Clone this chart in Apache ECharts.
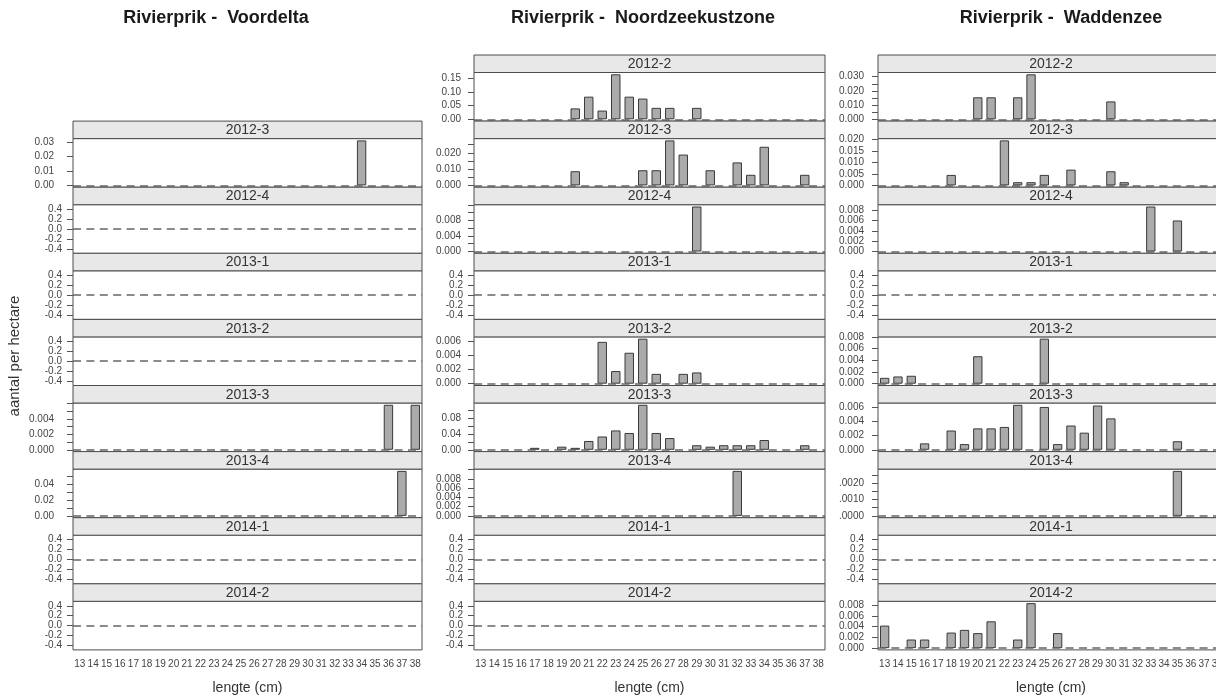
<!DOCTYPE html>
<html>
<head>
<meta charset="utf-8">
<script src="https://cdn.jsdelivr.net/npm/echarts@6/dist/echarts.min.js"></script>
<style>html,body{margin:0;padding:0;background:#fff}#chart{width:1216px;height:695px}</style>
</head>
<body>
<div id="chart"></div>
<script>
// ---------- DATA ----------
const lengthLabels = ['13','14','15','16','17','18','19','20','21','22','23','24','25','26','27','28','29','30','31','32','33','34','35','36','37','38'];

const columnTitles = ['Rivierprik -  Voordelta', 'Rivierprik -  Noordzeekustzone', 'Rivierprik -  Waddenzee'];
const yAxisTitle = 'aantal per hectare';
const xAxisTitle = 'lengte (cm)';

const emptyLabels = ['0.4','0.2','0.0','-0.2','-0.4'];
const Z = [0,0,0,0,0,0,0,0,0,0,0,0,0,0,0,0,0,0,0,0,0,0,0,0,0,0];

// Voordelta
const voordeltaPeriods = ['2012-3','2012-4','2013-1','2013-2','2013-3','2013-4','2014-1','2014-2'];
const voordeltaValues = [
  [0,0,0,0,0,0,0,0,0,0,0,0,0,0,0,0,0,0,0,0,0,0.031,0,0,0,0],
  Z, Z, Z,
  [0,0,0,0,0,0,0,0,0,0,0,0,0,0,0,0,0,0,0,0,0,0,0,0.0058,0,0.0058],
  [0,0,0,0,0,0,0,0,0,0,0,0,0,0,0,0,0,0,0,0,0,0,0,0,0.057,0],
  Z, Z
];
const voordeltaYLabels = [
  ['0.00','0.01','0.02','0.03'], emptyLabels, emptyLabels, emptyLabels,
  ['0.000','0.002','0.004'], ['0.00','0.02','0.04'], emptyLabels, emptyLabels
];
const voordeltaTickSteps = [0.01, 0.2, 0.2, 0.2, 0.001, 0.01, 0.2, 0.2];

// Noordzeekustzone
const noordzeePeriods = ['2012-2','2012-3','2012-4','2013-1','2013-2','2013-3','2013-4','2014-1','2014-2'];
const noordzeeValues = [
  [0,0,0,0,0,0,0,0.040,0.083,0.032,0.165,0.083,0.076,0.042,0.042,0,0.042,0,0,0,0,0,0,0,0,0],
  [0,0,0,0,0,0,0,0.0087,0,0,0,0,0.0093,0.0093,0.0276,0.0189,0,0.0093,0,0.0141,0.0065,0.0237,0,0,0.0065,0],
  [0,0,0,0,0,0,0,0,0,0,0,0,0,0,0,0,0.0116,0,0,0,0,0,0,0,0,0],
  Z,
  [0,0,0,0,0,0,0,0,0,0.00595,0.0018,0.0044,0.0064,0.0014,0,0.0014,0.0016,0,0,0,0,0,0,0,0,0],
  [0,0,0,0,0.005,0,0.008,0.005,0.0225,0.034,0.0495,0.043,0.115,0.043,0.030,0,0.0117,0.008,0.0117,0.0117,0.0117,0.025,0,0,0.0117,0],
  [0,0,0,0,0,0,0,0,0,0,0,0,0,0,0,0,0,0,0,0.00975,0,0,0,0,0,0],
  Z, Z
];
const noordzeeYLabels = [
  ['0.00','0.05','0.10','0.15'], ['0.000','0.010','0.020'], ['0.000','0.004','0.008'], emptyLabels,
  ['0.000','0.002','0.004','0.006'], ['0.00','0.04','0.08'], ['0.000','0.002','0.004','0.006','0.008'],
  emptyLabels, emptyLabels
];
const noordzeeTickSteps = [0.05, 0.005, 0.002, 0.2, 0.002, 0.02, 0.002, 0.2, 0.2];

// Waddenzee
const waddenzeePeriods = ['2012-2','2012-3','2012-4','2013-1','2013-2','2013-3','2013-4','2014-1','2014-2'];
const waddenzeeValues = [
  [0,0,0,0,0,0,0,0.0155,0.0155,0,0.0155,0.0317,0,0,0,0,0,0.0126,0,0,0,0,0,0,0,0],
  [0,0,0,0,0,0.0046,0,0,0,0.0197,0.0014,0.0014,0.0046,0,0.0069,0,0,0.0062,0.0014,0,0,0,0,0,0,0],
  [0,0,0,0,0,0,0,0,0,0,0,0,0,0,0,0,0,0,0,0,0.0087,0,0.0060,0,0,0],
  Z,
  [0.0010,0.00124,0.00136,0,0,0,0,0.0047,0,0,0,0,0.0077,0,0,0,0,0,0,0,0,0,0,0,0,0],
  [0,0,0,0.0009,0,0.0027,0.0008,0.0030,0.0030,0.0032,0.0063,0,0.0060,0.0008,0.0034,0.0024,0.0062,0.0044,0,0,0,0,0.0012,0,0,0],
  [0,0,0,0,0,0,0,0,0,0,0,0,0,0,0,0,0,0,0,0,0,0,0.00274,0,0,0],
  Z,
  [0.0042,0,0.0016,0.0016,0,0.0029,0.0034,0.0028,0.0050,0,0.0016,0.0084,0,0.0028,0,0,0,0,0,0,0,0,0,0,0,0]
];
const waddenzeeYLabels = [
  ['0.000','0.010','0.020','0.030'], ['0.000','0.005','0.010','0.015','0.020'],
  ['0.000','0.002','0.004','0.006','0.008'], emptyLabels,
  ['0.000','0.002','0.004','0.006','0.008'], ['0.000','0.002','0.004','0.006'],
  ['.0000','.0010','.0020'], emptyLabels, ['0.000','0.002','0.004','0.006','0.008']
];
const waddenzeeTickSteps = [0.005, 0.005, 0.002, 0.2, 0.002, 0.002, 0.0005, 0.2, 0.002];

// ---------- LAYOUT ----------
const FONT = "'Liberation Sans', Arial, sans-serif";
const ROW0 = 55, ROW_H = 66.1, STRIP_H = 17.5;
const columns = [
  {title: columnTitles[0], periods: voordeltaPeriods, values: voordeltaValues, labels: voordeltaYLabels, steps: voordeltaTickSteps,
   left: 73, width: 349, firstRow: 1, titleX: 211, marginEmpty: 11, marginData: 19},
  {title: columnTitles[1], periods: noordzeePeriods, values: noordzeeValues, labels: noordzeeYLabels, steps: noordzeeTickSteps,
   left: 474, width: 351, firstRow: 0, titleX: 638, marginEmpty: 11, marginData: 13},
  {title: columnTitles[2], periods: waddenzeePeriods, values: waddenzeeValues, labels: waddenzeeYLabels, steps: waddenzeeTickSteps,
   left: 878, width: 346, firstRow: 0, titleX: 1056, marginEmpty: 14, marginData: 14}
];

function yRange(vals) {
  const m = Math.max.apply(null, vals);
  return m > 0 ? [-0.04 * m, 1.04 * m] : [-0.49, 0.49];
}
function ticksFor(step, lo, hi) {
  const out = [];
  const k0 = Math.ceil(lo / step - 1e-6), k1 = Math.floor(hi / step + 1e-6);
  for (let k = k0; k <= k1; k++) out.push(+(k * step).toFixed(10));
  return out;
}
function labelFormatter(strs) {
  const nums = strs.map(function (s) { return parseFloat(s); });
  return function (v) {
    for (let i = 0; i < nums.length; i++) if (Math.abs(nums[i] - v) < 1e-9) return strs[i];
    return '';
  };
}

const grids = [], xAxes = [], yAxes = [], series = [], graphics = [], titles = [];
let gi = 0;
columns.forEach(function (col) {
  titles.push({text: col.title, left: col.titleX, top: 4, textAlign: 'center',
    textStyle: {fontFamily: FONT, fontSize: 18, fontWeight: 'bold', color: '#1a1a1a'}});
  const nPanels = col.periods.length;
  col.periods.forEach(function (period, p) {
    const row = col.firstRow + p;
    const stripTop = ROW0 + row * ROW_H;
    const vals = col.values[p];
    const rng = yRange(vals);
    const hasData = Math.max.apply(null, vals) > 0;
    const labelStrs = col.labels[p];
    // split labels in two alternating sets so that dense labels are all drawn (two overlaid axes)
    const setA = labelStrs.filter(function (s, i) { return i % 2 === 0; });
    const setB = labelStrs.filter(function (s, i) { return i % 2 === 1; });
    const ticks = ticksFor(col.steps[p], rng[0], rng[1]);
    const isBottom = p === nPanels - 1;
    const margin = hasData ? col.marginData : col.marginEmpty;

    grids.push({left: col.left, top: stripTop + STRIP_H, width: col.width, height: ROW_H - STRIP_H,
      containLabel: false, outerBoundsMode: 'none',
      show: true, borderColor: '#4d4d4d', borderWidth: 1, backgroundColor: '#fff'});
    xAxes.push({type: 'category', gridIndex: gi, data: lengthLabels,
      axisLine: {show: false}, axisTick: {show: false}, splitLine: {show: false},
      axisLabel: {show: isBottom, interval: 0, fontSize: 10, fontFamily: FONT, color: '#444', margin: 9,
        showMinLabel: true, showMaxLabel: true}});
    const yA = yAxes.length;
    [setA, setB].forEach(function (set, k) {
      yAxes.push({type: 'value', gridIndex: gi, min: rng[0], max: rng[1], position: 'left', offset: 0,
        axisLine: {show: false}, splitLine: {show: false},
        axisTick: {show: k === 0, length: 6, customValues: ticks, lineStyle: {color: '#555', width: 1}},
        axisLabel: {show: set.length > 0, fontSize: 10, fontFamily: FONT, color: '#444', hideOverlap: false,
          showMinLabel: true, showMaxLabel: true, margin: margin,
          customValues: set.map(function (s) { return parseFloat(s); }),
          formatter: labelFormatter(set)}});
    });
    series.push({type: 'bar', xAxisIndex: gi, yAxisIndex: yA,
      data: vals.map(function (v) { return v === 0 ? null : v; }),
      barWidth: '70%',
      itemStyle: {color: '#ababab', borderColor: '#3a3a3a', borderWidth: 1},
      markLine: {silent: true, symbol: ['none', 'none'], label: {show: false}, animation: false,
        lineStyle: {type: [8, 5.4], color: '#666666', width: 1.5}, data: [{yAxis: 0}]}});
    graphics.push({type: 'rect', shape: {x: col.left, y: stripTop, width: col.width, height: STRIP_H},
      style: {fill: '#e8e8e8', stroke: '#4d4d4d', lineWidth: 1}, z: 10});
    graphics.push({type: 'text', x: col.left + col.width / 2, y: stripTop + STRIP_H / 2 + 0.5, z: 11,
      style: {text: period, fontSize: 14, fontFamily: FONT, fill: '#333', align: 'center', verticalAlign: 'middle'}});
    gi++;
  });
  graphics.push({type: 'text', x: col.left + col.width / 2, y: 688, z: 11,
    style: {text: xAxisTitle, fontSize: 14, fontFamily: FONT, fill: '#333', align: 'center', verticalAlign: 'middle'}});
});
graphics.push({type: 'text', x: 15, y: 356, rotation: Math.PI / 2, z: 11,
  style: {text: yAxisTitle, fontSize: 15, fontFamily: FONT, fill: '#333', align: 'center', verticalAlign: 'middle'}});

const chart = echarts.init(document.getElementById('chart'), null, {renderer: 'canvas'});
chart.setOption({
  animation: false,
  backgroundColor: '#fff',
  title: titles,
  grid: grids,
  xAxis: xAxes,
  yAxis: yAxes,
  series: series,
  graphic: graphics
});
</script>
</body>
</html>
